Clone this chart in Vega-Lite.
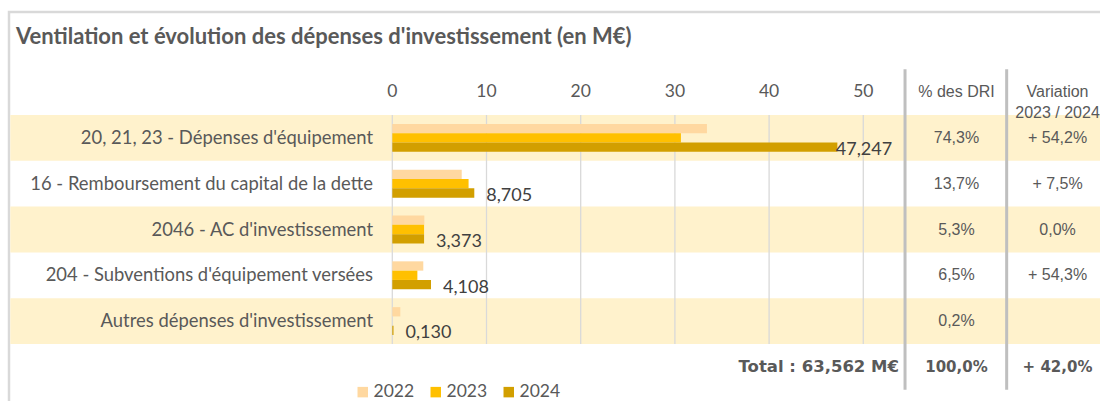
{
  "$schema": "https://vega.github.io/schema/vega-lite/v6.json",
  "width": 1093,
  "height": 391,
  "autosize": {"type": "none"},
  "padding": {"left": 9, "top": 12, "right": 0, "bottom": 0},
  "background": "white",
  "title": {
    "text": "Ventilation et évolution des dépenses d'investissement (en M€)",
    "anchor": "start", "frame": "group", "orient": "top", "offset": 0,
    "baseline": "middle", "dx": 7, "dy": 47,
    "font": "Lato", "fontSize": 22, "fontWeight": "bold", "color": "#595959"
  },
  "config": {
    "view": {"stroke": "#D9D9D9", "strokeWidth": 2.5},
    "locale": {"number": {"decimal": ",", "thousands": " ", "grouping": [3], "currency": ["", " €"]}},
    "legend": {
      "orient": "none", "legendX": 345, "legendY": 371, "direction": "horizontal",
      "symbolType": "square", "symbolSize": 110, "symbolStrokeWidth": 0,
      "labelFont": "Lato", "labelFontSize": 17.5, "labelColor": "#595959",
      "labelOffset": 2, "columnPadding": 12, "padding": 0, "title": null
    }
  },
  "datasets": {
    "bars": [
      {"cat": "r1", "year": "2022", "value": 33.4},
      {"cat": "r1", "year": "2023", "value": 30.64},
      {"cat": "r1", "year": "2024", "value": 47.247},
      {"cat": "r2", "year": "2022", "value": 7.37},
      {"cat": "r2", "year": "2023", "value": 8.098},
      {"cat": "r2", "year": "2024", "value": 8.705},
      {"cat": "r3", "year": "2022", "value": 3.4},
      {"cat": "r3", "year": "2023", "value": 3.373},
      {"cat": "r3", "year": "2024", "value": 3.373},
      {"cat": "r4", "year": "2022", "value": 3.29},
      {"cat": "r4", "year": "2023", "value": 2.662},
      {"cat": "r4", "year": "2024", "value": 4.108},
      {"cat": "r5", "year": "2022", "value": 0.85},
      {"cat": "r5", "year": "2023", "value": 0},
      {"cat": "r5", "year": "2024", "value": 0.13}
    ],
    "rows": [
      {"cat": "r1", "idx": 1, "label": "20, 21, 23 - Dépenses d'équipement", "pct": "74,3%", "var": "+ 54,2%"},
      {"cat": "r2", "idx": 2, "label": "16 - Remboursement du capital de la dette", "pct": "13,7%", "var": "+ 7,5%"},
      {"cat": "r3", "idx": 3, "label": "2046 - AC d'investissement", "pct": "5,3%", "var": "0,0%"},
      {"cat": "r4", "idx": 4, "label": "204 - Subventions d'équipement versées", "pct": "6,5%", "var": "+ 54,3%"},
      {"cat": "r5", "idx": 5, "label": "Autres dépenses d'investissement", "pct": "0,2%", "var": ""}
    ],
    "ticks": [{"t": 0}, {"t": 10}, {"t": 20}, {"t": 30}, {"t": 40}, {"t": 50}]
  },
  "layer": [
    {
      "data": {"name": "rows"},
      "transform": [{"filter": "datum.idx % 2 == 1"}],
      "mark": {"type": "rect", "fill": "#FFF2CC"},
      "encoding": {
        "x": {"datum": -40.55, "type": "quantitative", "scale": {"domain": [-40.69, 75.34], "nice": false, "zero": false}, "axis": null},
        "x2": {"datum": 76},
        "y": {"field": "cat", "type": "nominal", "axis": null,
              "scale": {"domain": ["hdr", "r1", "r2", "r3", "r4", "r5", "tot"], "paddingInner": 0, "paddingOuter": 0.7686, "align": 0.8125, "round": false}}
      }
    },
    {
      "data": {"name": "ticks"},
      "mark": {"type": "rule", "color": "#D9D9D9", "strokeWidth": 1.3},
      "encoding": {
        "x": {"field": "t", "type": "quantitative"},
        "y": {"datum": "r1", "type": "nominal", "bandPosition": 0},
        "y2": {"datum": "r5", "bandPosition": 1}
      }
    },
    {
      "data": {"name": "bars"},
      "mark": {"type": "bar"},
      "encoding": {
        "x": {"field": "value", "type": "quantitative"},
        "y": {"field": "cat", "type": "nominal"},
        "yOffset": {"field": "year", "type": "nominal", "scale": {"domain": ["2022", "2023", "2024"], "paddingInner": 0, "paddingOuter": 0.96}},
        "color": {"field": "year", "type": "nominal", "scale": {"domain": ["2022", "2023", "2024"], "range": ["#FFD8A0", "#FFC000", "#D29F00"]}}
      }
    },
    {
      "data": {"name": "bars"},
      "transform": [{"filter": "datum.year == '2024' && datum.value < 40"}],
      "mark": {"type": "text", "align": "left", "baseline": "middle", "dx": 12, "dy": 3, "font": "Lato", "fontSize": 18, "color": "#404040"},
      "encoding": {
        "x": {"field": "value", "type": "quantitative"},
        "y": {"field": "cat", "type": "nominal"},
        "yOffset": {"field": "year", "type": "nominal"},
        "text": {"field": "value", "type": "quantitative", "format": ".3f"}
      }
    },
    {
      "data": {"name": "bars"},
      "transform": [{"filter": "datum.year == '2024' && datum.value >= 40"}],
      "mark": {"type": "text", "align": "left", "baseline": "middle", "dx": -1.5, "dy": 3, "font": "Lato", "fontSize": 18, "color": "#404040"},
      "encoding": {
        "x": {"field": "value", "type": "quantitative"},
        "y": {"field": "cat", "type": "nominal"},
        "yOffset": {"field": "year", "type": "nominal"},
        "text": {"field": "value", "type": "quantitative", "format": ".3f"}
      }
    },
    {
      "data": {"name": "rows"},
      "mark": {"type": "text", "align": "right", "baseline": "middle", "font": "Lato", "fontSize": 18.4, "color": "#595959"},
      "encoding": {
        "x": {"datum": -2.05, "type": "quantitative"},
        "y": {"field": "cat", "type": "nominal"},
        "text": {"field": "label"}
      }
    },
    {
      "data": {"name": "ticks"},
      "mark": {"type": "text", "align": "center", "baseline": "middle", "font": "Lato", "fontSize": 17.5, "color": "#595959"},
      "encoding": {
        "x": {"field": "t", "type": "quantitative"},
        "y": {"datum": "hdr", "type": "nominal"},
        "text": {"field": "t", "type": "quantitative"}
      }
    },
    {
      "data": {"values": [{}]},
      "mark": {"type": "rule", "color": "#BFBFBF", "strokeWidth": 3},
      "encoding": {
        "x": {"datum": 54.43, "type": "quantitative"},
        "y": {"datum": "hdr", "type": "nominal", "bandPosition": 0},
        "y2": {"datum": "tot", "bandPosition": 1}
      }
    },
    {
      "data": {"values": [{}]},
      "mark": {"type": "rule", "color": "#BFBFBF", "strokeWidth": 3},
      "encoding": {
        "x": {"datum": 65.22, "type": "quantitative"},
        "y": {"datum": "hdr", "type": "nominal", "bandPosition": 0},
        "y2": {"datum": "tot", "bandPosition": 1}
      }
    },
    {
      "data": {"values": [{}]},
      "mark": {"type": "text", "align": "center", "baseline": "middle", "font": "Liberation Sans", "fontSize": 16, "color": "#595959"},
      "encoding": {
        "x": {"datum": 59.89, "type": "quantitative"},
        "y": {"datum": "hdr", "type": "nominal"},
        "text": {"value": "% des DRI"}
      }
    },
    {
      "data": {"values": [{}]},
      "mark": {"type": "text", "align": "center", "baseline": "middle", "font": "Liberation Sans", "fontSize": 16, "lineHeight": 21, "color": "#595959"},
      "encoding": {
        "x": {"datum": 70.62, "type": "quantitative"},
        "y": {"datum": "hdr", "type": "nominal"},
        "text": {"value": ["Variation", "2023 / 2024"]}
      }
    },
    {
      "data": {"name": "rows"},
      "mark": {"type": "text", "align": "center", "baseline": "middle", "font": "Liberation Sans", "fontSize": 16, "color": "#595959"},
      "encoding": {
        "x": {"datum": 59.89, "type": "quantitative"},
        "y": {"field": "cat", "type": "nominal"},
        "text": {"field": "pct"}
      }
    },
    {
      "data": {"name": "rows"},
      "mark": {"type": "text", "align": "center", "baseline": "middle", "font": "Liberation Sans", "fontSize": 16, "color": "#595959"},
      "encoding": {
        "x": {"datum": 70.62, "type": "quantitative"},
        "y": {"field": "cat", "type": "nominal"},
        "text": {"field": "var"}
      }
    },
    {
      "data": {"values": [{"total": "Total :  63,562 M€", "pct": "100,0%", "var": "+ 42,0%"}]},
      "layer": [
        {
          "mark": {"type": "text", "align": "right", "baseline": "middle", "font": "DejaVu Sans", "fontSize": 16.5, "fontWeight": "bold", "color": "#595959"},
          "encoding": {
            "x": {"datum": 53.79, "type": "quantitative"},
            "y": {"datum": "tot", "type": "nominal"},
            "text": {"field": "total"}
          }
        },
        {
          "mark": {"type": "text", "align": "center", "baseline": "middle", "font": "DejaVu Sans", "fontSize": 15, "fontWeight": "bold", "color": "#595959"},
          "encoding": {
            "x": {"datum": 59.89, "type": "quantitative"},
            "y": {"datum": "tot", "type": "nominal"},
            "text": {"field": "pct"}
          }
        },
        {
          "mark": {"type": "text", "align": "center", "baseline": "middle", "font": "DejaVu Sans", "fontSize": 15, "fontWeight": "bold", "color": "#595959"},
          "encoding": {
            "x": {"datum": 70.62, "type": "quantitative"},
            "y": {"datum": "tot", "type": "nominal"},
            "text": {"field": "var"}
          }
        }
      ]
    }
  ]
}
